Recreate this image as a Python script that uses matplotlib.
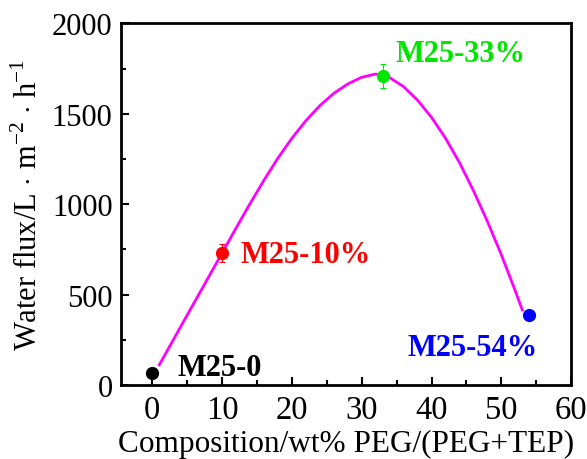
import matplotlib
matplotlib.use("Agg")
from matplotlib import pyplot as plt
from matplotlib.ticker import MultipleLocator

# measured samples
comp = [0, 10, 33, 54]
flux = [65, 730, 1711, 385]
flux_err = [20, 50, 67, 15]
names = ["M25-0", "M25-10%", "M25-33%", "M25-54%"]
colors = ["#000000", "#ff0000", "#00e600", "#0000ff"]

# fitted curve
fit_x = [1.0, 4, 7, 10, 12, 14, 16, 18, 20, 22, 24, 26, 28, 30, 32,
         34, 36, 38, 40, 42, 44, 46, 48, 50, 52, 53]
fit_y = [111, 318, 524, 730, 868, 1003, 1133, 1255, 1365, 1462, 1545, 1613,
         1665, 1702, 1720, 1700, 1650, 1575, 1480, 1365, 1230, 1075, 905,
         720, 520, 415]

plt.rcParams['font.family'] = ['Liberation Serif', 'DejaVu Serif']
plt.rcParams['mathtext.fontset'] = 'custom'
plt.rcParams['mathtext.rm'] = 'Liberation Serif'

fig = plt.figure(figsize=(5.87, 4.60), dpi=100)
ax = fig.add_axes([0.206, 0.161, 0.767, 0.786])

ax.plot(fit_x, fit_y, color='#ff00ff', lw=2, zorder=2)

for x, y, e, c in zip(comp, flux, flux_err, colors):
    ax.errorbar(x, y, yerr=e, fmt='o', color=c, ms=8.5, elinewidth=0.8,
                capsize=2.5, capthick=0.8, zorder=3)

label_pos = [(3.6, 94, 'left'), (12.7, 722, 'left'),
             (34.9, 1833, 'left'), (55.2, 205, 'right')]
for (tx, ty, ha), n, c in zip(label_pos, names, colors):
    ax.text(tx, ty, n, color=c, fontsize=22, fontweight='bold',
            ha=ha, va='center')

ax.set_xlim(-4.5, 60)
ax.set_ylim(0, 2000)
ax.xaxis.set_major_locator(MultipleLocator(10))
ax.xaxis.set_minor_locator(MultipleLocator(5))
ax.yaxis.set_major_locator(MultipleLocator(500))
ax.yaxis.set_minor_locator(MultipleLocator(250))
ax.tick_params(which='both', direction='in', width=1.5)
ax.tick_params(axis='x', labelsize=23.5, pad=7)
ax.tick_params(axis='y', labelsize=22, pad=6)
ax.tick_params(which='major', length=6)
ax.tick_params(which='minor', length=3.5)
for s in ax.spines.values():
    s.set_linewidth(2)

ax.set_xlabel('Composition/wt% PEG/(PEG+TEP)', fontsize=22.5, labelpad=3)
ax.set_ylabel(r'Water flux/L $\cdot$ m$^{-2}$ $\cdot$ h$^{-1}$', fontsize=22,
              labelpad=6)

plt.savefig('out.png', dpi=100)
